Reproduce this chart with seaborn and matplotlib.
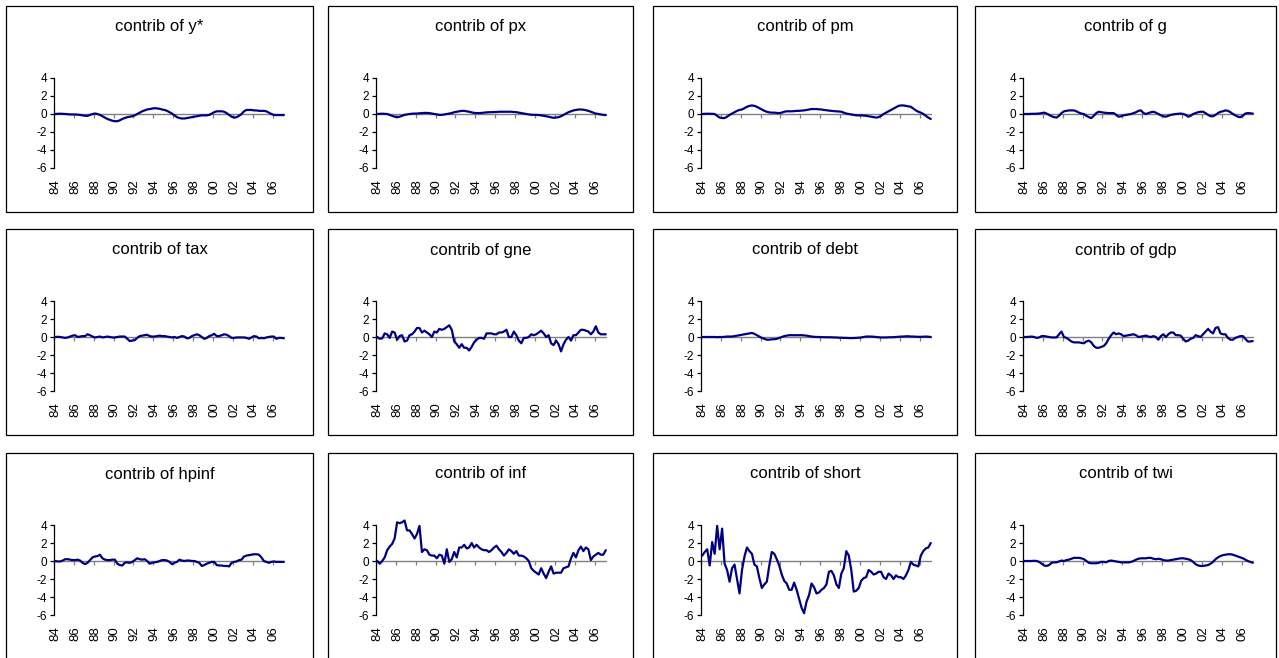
import matplotlib
matplotlib.use("Agg")
import matplotlib.pyplot as plt
from matplotlib.patches import Rectangle
import seaborn as sns
import numpy as np
import pandas as pd

# quarterly contributions, 1984Q1 .. 2007Q1 (93 quarters)
titles = ["contrib of y*", "contrib of px", "contrib of pm", "contrib of g",
          "contrib of tax", "contrib of gne", "contrib of debt", "contrib of gdp",
          "contrib of hpinf", "contrib of inf", "contrib of short", "contrib of twi"]
year_labels = ["84", "86", "88", "90", "92", "94", "96", "98", "00", "02", "04", "06"]
y_ticks = [4, 2, 0, -2, -4, -6]

y_star = [0.0, 0.02, 0.03, 0.02, 0.0, -0.02, -0.05, -0.05, -0.05, -0.08, -0.1, -0.15,
          -0.2, -0.2, -0.1, 0.0, 0.05, 0.0, -0.1, -0.25, -0.4, -0.55, -0.65, -0.75,
          -0.8, -0.8, -0.7, -0.55, -0.45, -0.35, -0.3, -0.25, -0.15, 0.0, 0.15, 0.3,
          0.4, 0.5, 0.55, 0.6, 0.65, 0.62, 0.58, 0.5, 0.45, 0.35, 0.2, 0.05,
          -0.15, -0.35, -0.45, -0.5, -0.5, -0.45, -0.4, -0.35, -0.3, -0.25, -0.2, -0.15,
          -0.15, -0.15, -0.1, 0.05, 0.2, 0.3, 0.3, 0.3, 0.25, 0.1, -0.1, -0.3,
          -0.4, -0.35, -0.2, 0.0, 0.3, 0.45, 0.45, 0.45, 0.4, 0.4, 0.35, 0.35,
          0.35, 0.3, 0.15, 0.0, -0.1, -0.12, -0.12, -0.12, -0.12]
px = [0.0, 0.02, 0.03, 0.02, 0.0, -0.1, -0.2, -0.3, -0.35, -0.3, -0.2, -0.1,
      -0.05, 0.0, 0.03, 0.05, 0.05, 0.08, 0.1, 0.12, 0.12, 0.1, 0.05, 0.0,
      -0.05, -0.1, -0.1, -0.05, 0.0, 0.05, 0.1, 0.2, 0.25, 0.3, 0.35, 0.35,
      0.3, 0.25, 0.18, 0.12, 0.1, 0.1, 0.12, 0.15, 0.18, 0.2, 0.2, 0.22,
      0.22, 0.25, 0.25, 0.25, 0.25, 0.25, 0.25, 0.22, 0.2, 0.15, 0.1, 0.05,
      0.0, -0.05, -0.08, -0.1, -0.1, -0.12, -0.15, -0.2, -0.25, -0.3, -0.38, -0.42,
      -0.4, -0.35, -0.25, -0.1, 0.05, 0.2, 0.3, 0.4, 0.45, 0.5, 0.5, 0.48,
      0.42, 0.35, 0.25, 0.15, 0.05, 0.0, -0.05, -0.1, -0.12]
pm = [0.0, 0.02, 0.03, 0.02, 0.02, 0.0, -0.2, -0.4, -0.45, -0.45, -0.3, -0.1,
      0.05, 0.2, 0.35, 0.45, 0.5, 0.65, 0.8, 0.9, 0.95, 0.9, 0.8, 0.65,
      0.5, 0.35, 0.25, 0.18, 0.15, 0.15, 0.12, 0.1, 0.15, 0.25, 0.3, 0.3,
      0.3, 0.32, 0.35, 0.35, 0.38, 0.4, 0.45, 0.5, 0.55, 0.55, 0.55, 0.52,
      0.5, 0.45, 0.42, 0.38, 0.35, 0.32, 0.3, 0.28, 0.25, 0.15, 0.05, 0.0,
      -0.05, -0.1, -0.15, -0.15, -0.15, -0.18, -0.2, -0.25, -0.3, -0.35, -0.4, -0.35,
      -0.2, 0.0, 0.15, 0.3, 0.45, 0.6, 0.75, 0.9, 0.95, 0.95, 0.9, 0.85,
      0.8, 0.6, 0.4, 0.25, 0.15, 0.0, -0.2, -0.4, -0.55]
g = [0.0, 0.0, 0.0, 0.02, 0.02, 0.03, 0.05, 0.1, 0.15, 0.05, -0.1, -0.25,
     -0.35, -0.4, -0.2, 0.1, 0.3, 0.35, 0.4, 0.4, 0.4, 0.3, 0.15, 0.05,
     0.0, -0.2, -0.35, -0.45, -0.2, 0.1, 0.25, 0.2, 0.15, 0.12, 0.1, 0.1,
     0.1, -0.1, -0.3, -0.25, -0.15, -0.1, -0.05, 0.0, 0.1, 0.2, 0.35, 0.4,
     0.1, 0.0, 0.1, 0.2, 0.25, 0.15, 0.0, -0.15, -0.25, -0.3, -0.2, -0.1,
     -0.05, 0.0, 0.02, 0.05, 0.0, -0.1, -0.3, -0.2, 0.0, 0.1, 0.2, 0.25,
     0.25, 0.1, -0.1, -0.25, -0.25, -0.1, 0.1, 0.25, 0.3, 0.4, 0.35, 0.2,
     0.0, -0.15, -0.3, -0.35, -0.2, 0.05, 0.1, 0.08, 0.05]
tax = [0.0, 0.02, 0.0, -0.05, -0.1, -0.05, 0.05, 0.15, 0.2, 0.0, 0.05, 0.1,
       0.1, 0.3, 0.2, 0.05, -0.05, 0.0, 0.05, -0.05, 0.0, 0.05, 0.0, -0.05,
       -0.05, 0.0, 0.05, 0.05, 0.05, -0.2, -0.45, -0.4, -0.35, -0.1, 0.1, 0.15,
       0.2, 0.25, 0.1, 0.05, 0.05, 0.1, 0.15, 0.1, 0.1, 0.05, 0.0, -0.05,
       0.0, -0.1, 0.0, 0.1, 0.05, -0.15, -0.1, 0.1, 0.2, 0.3, 0.2, 0.0,
       -0.2, -0.1, 0.1, 0.2, 0.35, 0.1, 0.1, 0.2, 0.3, 0.25, 0.1, -0.1,
       -0.1, -0.05, -0.05, -0.05, -0.05, -0.1, -0.2, -0.05, 0.1, 0.05, -0.15, -0.1,
       -0.15, -0.05, 0.0, 0.05, 0.05, -0.2, -0.1, -0.1, -0.15]
gne = [0.0, -0.2, -0.15, 0.4, 0.3, -0.1, 0.6, 0.5, -0.3, 0.1, 0.2, -0.5,
       -0.4, 0.2, 0.3, 0.6, 1.0, 1.0, 0.5, 0.7, 0.5, 0.3, 0.0, 0.6,
       0.5, 0.9, 0.8, 0.9, 1.1, 1.3, 0.8, -0.5, -0.8, -1.2, -0.8, -1.2,
       -1.2, -1.5, -1.1, -0.6, -0.3, -0.1, -0.1, -0.2, 0.4, 0.4, 0.4, 0.3,
       0.3, 0.5, 0.5, 0.6, 0.8, 0.0, 0.0, 0.6, 0.2, -0.4, -0.7, -0.1,
       -0.1, 0.0, 0.3, 0.2, 0.3, 0.5, 0.7, 0.4, 0.0, 0.2, -0.7, -0.9,
       -0.4, -0.8, -1.6, -0.8, -0.3, 0.0, -0.4, 0.2, 0.2, 0.5, 0.8, 0.8,
       0.7, 0.6, 0.3, 0.6, 1.2, 0.5, 0.3, 0.3, 0.3]
debt = [0.0, 0.0, 0.0, 0.0, 0.0, 0.0, -0.02, 0.0, 0.0, 0.02, 0.05, 0.05,
        0.05, 0.1, 0.15, 0.2, 0.25, 0.3, 0.35, 0.4, 0.45, 0.35, 0.2, 0.05,
        -0.1, -0.2, -0.3, -0.3, -0.25, -0.25, -0.2, -0.1, 0.0, 0.1, 0.15, 0.2,
        0.2, 0.2, 0.2, 0.2, 0.2, 0.18, 0.15, 0.1, 0.05, 0.02, 0.0, 0.0,
        -0.02, -0.02, -0.03, -0.03, -0.03, -0.05, -0.05, -0.08, -0.08, -0.1, -0.1, -0.12,
        -0.12, -0.12, -0.1, -0.08, -0.05, 0.0, 0.05, 0.05, 0.05, 0.03, 0.0, -0.03,
        -0.05, -0.05, -0.05, -0.03, -0.03, -0.02, 0.0, 0.02, 0.05, 0.05, 0.08, 0.08,
        0.05, 0.05, 0.03, 0.02, 0.02, 0.03, 0.05, 0.03, 0.0]
gdp = [0.0, 0.0, 0.02, 0.05, 0.0, -0.1, -0.05, 0.1, 0.1, 0.05, 0.0, -0.05,
       -0.05, -0.05, 0.3, 0.6, 0.0, -0.1, -0.3, -0.5, -0.6, -0.6, -0.6, -0.65,
       -0.7, -0.5, -0.4, -0.6, -1.0, -1.2, -1.2, -1.1, -1.0, -0.7, -0.2, 0.2,
       0.5, 0.3, 0.4, 0.3, 0.1, 0.15, 0.2, 0.25, 0.3, 0.2, 0.0, 0.05,
       0.1, 0.15, 0.05, 0.0, 0.1, 0.0, -0.3, 0.1, 0.3, 0.0, 0.3, 0.5,
       0.5, 0.2, 0.2, 0.15, -0.2, -0.5, -0.4, -0.2, -0.1, 0.2, 0.1, 0.0,
       0.3, 0.6, 0.9, 0.6, 0.4, 1.0, 1.1, 0.4, 0.3, 0.3, -0.1, -0.3,
       -0.3, -0.1, 0.0, 0.1, 0.1, -0.2, -0.5, -0.5, -0.45]
hpinf = [0.0, -0.05, -0.05, 0.05, 0.2, 0.2, 0.15, 0.1, 0.1, 0.15, 0.05, -0.2,
         -0.35, -0.2, 0.1, 0.4, 0.5, 0.55, 0.7, 0.3, 0.15, 0.1, 0.1, 0.15,
         0.15, -0.3, -0.45, -0.5, -0.2, -0.15, -0.2, -0.1, 0.1, 0.3, 0.2, 0.15,
         0.2, 0.0, -0.3, -0.2, -0.15, -0.1, 0.0, 0.1, 0.1, 0.05, -0.1, -0.35,
         -0.2, -0.1, 0.15, 0.05, 0.0, 0.05, 0.05, 0.0, 0.0, -0.1, -0.2, -0.55,
         -0.45, -0.3, -0.2, -0.1, -0.1, -0.45, -0.5, -0.5, -0.55, -0.55, -0.6, -0.2,
         -0.1, -0.05, 0.1, 0.15, 0.5, 0.6, 0.65, 0.7, 0.75, 0.75, 0.7, 0.4,
         0.0, -0.1, -0.2, -0.1, -0.05, -0.1, -0.1, -0.1, -0.1]
inf = [0.0, -0.3, 0.0, 0.4, 1.2, 1.6, 1.9, 2.5, 4.3, 4.2, 4.3, 4.5,
       3.4, 3.4, 3.0, 2.5, 3.0, 3.9, 1.0, 1.3, 1.2, 0.7, 0.6, 0.6,
       0.3, 0.7, 0.6, -0.3, 1.3, -0.1, 0.2, 1.0, 0.4, 1.5, 1.5, 1.8,
       1.4, 1.5, 2.0, 1.5, 1.8, 1.5, 1.3, 1.2, 1.2, 1.0, 1.2, 1.5,
       1.7, 1.3, 1.0, 0.6, 0.9, 1.3, 1.1, 0.8, 1.1, 0.6, 0.6, 0.5,
       0.3, 0.0, -0.8, -1.1, -1.3, -1.5, -0.8, -1.4, -1.9, -1.2, -0.6, -1.4,
       -1.3, -1.3, -1.3, -0.8, -0.7, -0.6, 0.3, 0.9, 0.4, 1.2, 1.6, 1.1,
       1.5, 1.3, 0.1, 0.5, 0.7, 0.9, 0.7, 0.7, 1.2]
short = [0.6, 1.0, 1.3, -0.5, 2.1, 0.8, 3.9, 1.3, 3.6, -0.3, -1.0, -2.3,
         -0.8, -0.4, -2.0, -3.6, -1.0, 0.5, 1.5, 1.1, 0.8, -0.4, -0.6, -1.9,
         -3.0, -2.6, -2.3, -0.5, 1.0, 0.8, 0.2, -0.5, -1.5, -2.2, -2.5, -3.2,
         -3.2, -2.4, -3.2, -4.2, -5.2, -5.8, -4.5, -3.8, -2.5, -2.9, -3.6, -3.5,
         -3.2, -3.0, -2.6, -1.2, -1.1, -1.6, -2.6, -3.0, -1.4, -0.8, 1.1, 0.6,
         -1.0, -3.4, -3.3, -3.0, -2.2, -1.9, -1.8, -1.0, -1.2, -1.5, -1.4, -1.2,
         -1.2, -1.8, -2.0, -1.4, -1.6, -2.0, -1.6, -1.8, -1.8, -2.0, -1.6, -1.0,
         -0.1, -0.4, -0.5, -0.6, 0.6, 1.1, 1.4, 1.5, 2.0]
twi = [0.0, 0.0, 0.0, 0.0, 0.02, 0.0, -0.1, -0.3, -0.5, -0.55, -0.45, -0.2,
       -0.15, -0.15, -0.05, 0.05, 0.0, 0.1, 0.15, 0.25, 0.35, 0.35, 0.35, 0.3,
       0.2, 0.0, -0.2, -0.25, -0.25, -0.25, -0.2, -0.1, -0.1, -0.15, 0.0, 0.05,
       0.0, -0.05, -0.1, -0.15, -0.15, -0.15, -0.15, -0.1, 0.0, 0.15, 0.25, 0.3,
       0.3, 0.3, 0.35, 0.35, 0.25, 0.2, 0.25, 0.2, 0.1, 0.05, 0.05, 0.1,
       0.15, 0.2, 0.25, 0.3, 0.3, 0.25, 0.2, 0.1, -0.1, -0.35, -0.5, -0.55,
       -0.55, -0.5, -0.45, -0.3, -0.1, 0.2, 0.4, 0.55, 0.65, 0.7, 0.75, 0.75,
       0.7, 0.6, 0.5, 0.4, 0.3, 0.15, 0.0, -0.1, -0.2]

series = [y_star, px, pm, g, tax, gne, debt, gdp, hpinf, inf, short, twi]

sns.set_theme(style="white")
plt.rcParams["font.family"] = ["Liberation Sans", "DejaVu Sans"]
plt.rcParams["axes.unicode_minus"] = False
plt.rcParams["text.color"] = "black"
plt.rcParams["xtick.color"] = "black"
plt.rcParams["ytick.color"] = "black"

W, H = 1279, 658
fig = plt.figure(figsize=(W / 100, H / 100), dpi=100)
fig.patch.set_facecolor("white")

# panel frames in pixels (Excel-style boxed charts)
box_left = [6, 328, 653, 975]
box_width = [307, 305, 304, 301]
box_top = [6, 229, 453]
box_h = 206
line_color = "#000080"

for k, (title, vals) in enumerate(zip(titles, series)):
    r, c = divmod(k, 4)
    bx, by, bw = box_left[c], box_top[r], box_width[c]
    fig.patches.append(Rectangle((bx / W, 1 - (by + box_h) / H), bw / W, box_h / H,
                                 transform=fig.transFigure, fill=False,
                                 edgecolor="black", linewidth=0.9))
    fig.text((bx + bw / 2) / W, 1 - (by + 21) / H, title,
             ha="center", va="center", fontsize=12, color="black")

    ax = fig.add_axes([(bx + 48) / W, 1 - (by + 162) / H, 231 / W, 90 / H])
    n = len(vals)
    df = pd.DataFrame({"quarter": np.arange(n), "value": vals})
    ax.axhline(0, color="#808080", linewidth=1.0, zorder=1)
    sns.lineplot(data=df, x="quarter", y="value", ax=ax, color=line_color,
                 linewidth=1.6, zorder=3)
    ax.lines[-1].set_clip_on(False)

    ax.set_xlim(-0.5, n - 0.5)
    ax.set_ylim(-6, 4)
    ax.set_xlabel("")
    ax.set_ylabel("")
    ax.set_facecolor("none")
    for side in ["top", "right", "bottom"]:
        ax.spines[side].set_visible(False)
    ax.spines["left"].set_color("black")
    ax.spines["left"].set_linewidth(0.9)

    ax.set_yticks(y_ticks)
    ax.set_yticklabels([str(t) for t in y_ticks])
    ax.tick_params(axis="y", left=True, direction="out", length=3, width=0.9,
                   color="black", labelcolor="black", labelsize=8.5, pad=2)

    ax.set_xticks(np.arange(0, n, 8)[:len(year_labels)])
    ax.set_xticklabels(year_labels, rotation=90)
    ax.tick_params(axis="x", bottom=True, length=0, labelcolor="black",
                   labelsize=9.5, pad=8)

    # tick marks hanging from the zero line
    sec = ax.secondary_xaxis(0.6)
    sec.set_alignment("bottom")
    sec.set_xticks(np.arange(0, n, 8) - 0.5)
    sec.tick_params(axis="x", direction="out", length=3, width=0.9,
                    color="#808080", labelbottom=False, labeltop=False)
    for sp in sec.spines.values():
        sp.set_visible(False)

fig.savefig("out.png", dpi=100, facecolor="white")
